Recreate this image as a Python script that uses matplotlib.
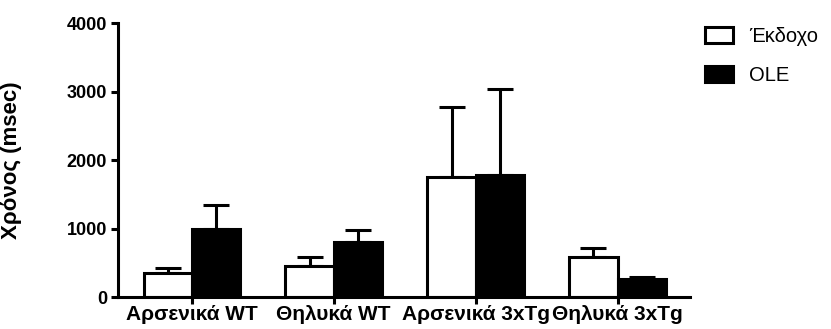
import matplotlib
matplotlib.use("Agg")
import matplotlib.pyplot as plt
import numpy as np
from matplotlib.patches import Patch

plt.rcParams['font.family'] = ['Liberation Sans', 'DejaVu Sans']

categories = ["Αρσενικά WT", "Θηλυκά WT", "Αρσενικά 3xTg", "Θηλυκά 3xTg"]
vehicle_mean = [356, 458, 1747, 581]
vehicle_err = [64, 132, 1025, 141]
ole_mean = [1000, 800, 1776, 265]
ole_err = [347, 180, 1264, 25]
series_labels = ["Έκδοχο", "OLE"]
yticks = [0, 1000, 2000, 3000, 4000]

dpi = 100
fig = plt.figure(figsize=(831 / dpi, 329 / dpi), dpi=dpi)
ax = fig.add_axes([118 / 831, 1 - 297 / 329, (690 - 118) / 831, (297 - 23.3) / 329])

x = np.arange(len(categories))
w = 0.34
lw = 2.2

ax.bar(x - w / 2, vehicle_mean, width=w, color="white", edgecolor="black",
       linewidth=lw, zorder=2)
ax.bar(x + w / 2, ole_mean, width=w, color="black", edgecolor="black",
       linewidth=lw, zorder=2)
ax.errorbar(x - w / 2, vehicle_mean, yerr=[np.zeros(len(x)), vehicle_err],
            fmt="none", ecolor="black", elinewidth=lw, capsize=9.5, capthick=lw, zorder=1)
ax.errorbar(x + w / 2, ole_mean, yerr=[np.zeros(len(x)), ole_err],
            fmt="none", ecolor="black", elinewidth=lw, capsize=9.5, capthick=lw, zorder=1)

ax.set_xlim(-0.52, 3.51)
ax.set_ylim(0, 4000)
ax.set_yticks(yticks)
ax.set_yticklabels([str(v) for v in yticks], fontsize=13, fontweight="bold")
ax.set_xticks(x)
ax.set_xticklabels(categories, fontsize=15, fontweight="bold")
ax.set_ylabel("Χρόνος (msec)", fontsize=16, fontweight="bold")
ax.yaxis.set_label_coords((22 - 118) / 572, 0.5)

for side in ("top", "right"):
    ax.spines[side].set_visible(False)
for side in ("left", "bottom"):
    ax.spines[side].set_linewidth(lw)
    ax.spines[side].set_zorder(3)
ax.tick_params(axis="both", width=lw, length=5, direction="out")
ax.tick_params(axis="y", pad=3)
ax.tick_params(axis="x", pad=1)

handles = [Patch(facecolor="white", edgecolor="black", linewidth=lw),
           Patch(facecolor="black", edgecolor="black", linewidth=lw)]
fig.legend(handles, series_labels, loc="upper left", bbox_to_anchor=(705 / 831, 1 - 27 / 329),
           frameon=False, fontsize=14.5, handlelength=1.4, handleheight=0.85,
           handletextpad=0.8, labelspacing=1.0, borderaxespad=0, borderpad=0)

fig.savefig("out.png", dpi=dpi)
